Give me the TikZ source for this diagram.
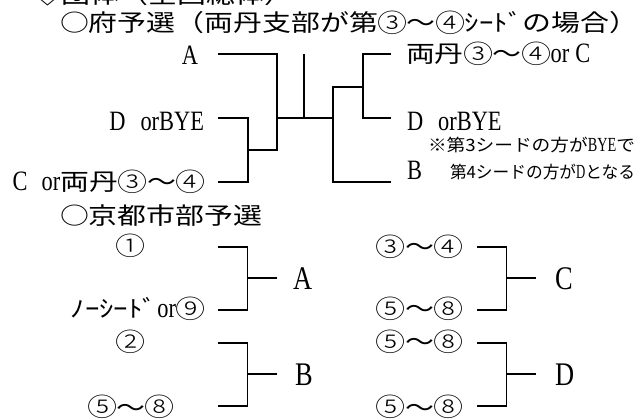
\documentclass[tikz,border=0pt]{standalone}
\usepackage{fontspec}
\usepackage{graphicx}
\setmainfont{Liberation Serif}[FakeStretch=0.8]
\newfontfamily\jp{Noto Sans CJK JP}[FakeStretch=1.23]
\newfontfamily\jpc{Noto Sans CJK JP Light}[FakeStretch=1.18]
\newcommand\J[1]{{\jp\fontsize{23.5}{28}\selectfont #1}}
\newcommand\C[1]{\makebox[29pt]{\jpc\fontsize{25.5}{28}\selectfont\raisebox{-0.6pt}{#1}}}
\newcommand\lt[1]{{\fontsize{28}{28}\selectfont #1}}
\newcommand\kl[1]{{\fontsize{33}{33}\selectfont #1}}
\newcommand\nj[1]{{\jp\fontsize{17}{17}\selectfont #1}}
\newcommand\nl[1]{{\fontsize{20}{20}\selectfont #1}}
\begin{document}
\begin{tikzpicture}[x=1pt,y=-1pt,line width=1.1pt,
  txt/.style={inner sep=0pt,outer sep=0pt}]
\useasboundingbox (0,0) rectangle (637,419);
\fill[white] (0,0) rectangle (637,419);
% headings
\node[txt,anchor=base west] (h0) at (33,3.5) {\J{◇団体（全国総体）}};
\node[txt,anchor=base west] (h1) at (60,31.5) {\J{○府予選（両丹支部が第}\C{③}\J{～}\C{④}\J{ｼｰﾄﾞの場合）}};
% left entries of prefectural bracket
\node[txt,anchor=base east] (tA) at (198,65) {\lt{A}};
\node[txt,anchor=base east] (tD) at (204,131) {\lt{D\hspace{15pt}orBYE}};
\node[txt,anchor=base east] (tC) at (205,191) {\lt{C\hspace{14pt}or}\J{両丹}\C{③}\J{～}\C{④}};
% right entries
\node[txt,anchor=base west] (tR) at (406,63) {\J{両丹}\C{③}\J{～}\C{④}\lt{or\hspace{6pt}C}};
\node[txt,anchor=base west] (tD2) at (407,131) {\lt{D\hspace{15pt}orBYE}};
\node[txt,anchor=base west] (n1) at (428,152) {\resizebox{207pt}{\height}{\nj{※第3シードの方が}\nl{BYE}\nj{で}}};
\node[txt,anchor=base west] (tB) at (407,180) {\lt{B}};
\node[txt,anchor=base west] (n2) at (450,179) {\resizebox{185pt}{\height}{\nj{第4シードの方が}\nl{D}\nj{となる}}};
% prefectural bracket lines
\coordinate (a1) at (218,54);
\coordinate (a2) at (277,54);
\coordinate (a3) at (277,150);
\coordinate (bc) at (247,150);
\coordinate (b1) at (218,118);
\coordinate (b2) at (248,118);
\coordinate (b3) at (248,182);
\coordinate (c1) at (218,182);
\coordinate (m1) at (277,118);
\coordinate (m2) at (333,118);
\coordinate (w0) at (304,54);
\coordinate (w1) at (304,118);
\coordinate (r1) at (333,87);
\coordinate (r2) at (333,182);
\coordinate (r3) at (363,87);
\coordinate (r4) at (363,54);
\coordinate (r5) at (363,118);
\coordinate (e1) at (391,54);
\coordinate (e2) at (391,118);
\coordinate (e3) at (391,182);
\draw (a1) -- (a2) -- (a3) -- (bc);
\draw (b1) -- (b2) -- (b3) -- (c1);
\draw (m1) -- (m2);
\draw (w0) -- (w1);
\draw (r3) -- (r1) -- (r2) -- (e3);
\draw (e1) -- (r4) -- (r5) -- (e2);
% Kyoto city
\node[txt,anchor=base west] (h2) at (60,225) {\J{○京都市部予選}};
\node[txt,anchor=base] (k1) at (131,255) {\C{①}};
\node[txt,anchor=base east] (k9) at (205,318) {\J{ﾉｰｼｰﾄﾞ}\lt{or}\C{⑨}};
\node[txt,anchor=base] (k2) at (131,351) {\C{②}};
\node[txt,anchor=base] (k58) at (131,416) {\C{⑤}\J{～}\C{⑧}};
\node[txt,anchor=base west] (kA) at (293,290) {\kl{A}};
\node[txt,anchor=base west] (kB) at (295,385) {\kl{B}};
\node[txt,anchor=base west] (k34) at (376,256) {\C{③}\J{～}\C{④}};
\node[txt,anchor=base west] (k58a) at (376,318) {\C{⑤}\J{～}\C{⑧}};
\node[txt,anchor=base west] (k58b) at (376,351) {\C{⑤}\J{～}\C{⑧}};
\node[txt,anchor=base west] (k58c) at (376,416) {\C{⑤}\J{～}\C{⑧}};
\node[txt,anchor=base west] (kC) at (555,290) {\kl{C}};
\node[txt,anchor=base west] (kD) at (555,385) {\kl{D}};
\foreach \n/\x/\y in {ka/218/247, kb/218/343, kc/477/247, kd/477/343}{
  \coordinate (\n1) at (\x,\y);
  \coordinate (\n2) at (\x+29.5,\y);
  \coordinate (\n3) at (\x+29.5,\y+63);
  \coordinate (\n4) at (\x,\y+63);
  \coordinate (\n5) at (\x+29.5,\y+31);
  \coordinate (\n6) at (\x+58.5,\y+31);
  \draw (\n1) -- (\n2) -- (\n3) -- (\n4);
  \draw (\n5) -- (\n6);
}
\end{tikzpicture}
\end{document}
